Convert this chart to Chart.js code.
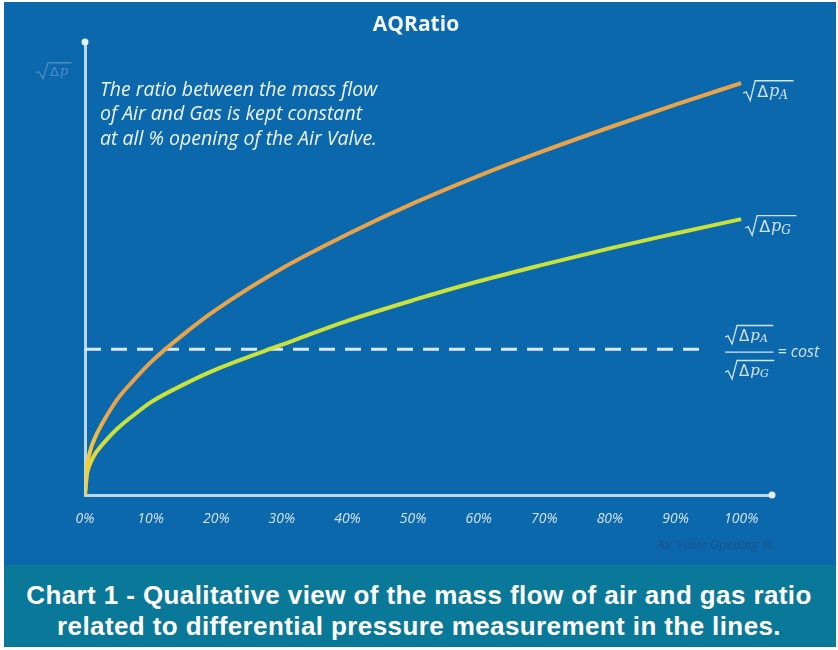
<!DOCTYPE html>
<html>
<head>
<meta charset="utf-8">
<script src="https://cdn.jsdelivr.net/npm/chart.js@4.4.1/dist/chart.umd.min.js"></script>
<style>
  html, body { margin: 0; padding: 0; background: #ffffff; }
  #wrap { position: relative; width: 838px; height: 650px; overflow: hidden; }
  #wrap::after {
    content: ""; position: absolute; left: 0; top: 0; right: 0; bottom: 0; pointer-events: none;
    border-style: solid; border-color: #ffffff; border-width: 2px 2px 3px 4px;
  }
  #plot { position: absolute; left: 0; top: 0; width: 838px; height: 565px; background: #0b68ad; }
  #caption {
    position: absolute; left: 0; top: 565px; width: 838px; height: 85px;
    background: #0a7898; color: #ffffff; text-align: center;
    font-family: "Liberation Sans", Arial, sans-serif;
    font-weight: bold; font-size: 26px; line-height: 31px; padding-top: 15px; box-sizing: border-box;
    letter-spacing: 0.4px;
  }
</style>
</head>
<body>
<div id="wrap">
  <div id="plot"><canvas id="aqChart" width="838" height="565"></canvas></div>
  <div id="caption">Chart 1 - Qualitative view of the mass flow of air and gas ratio<br>related to differential pressure measurement in the lines.</div>
</div>
<script>
// air valve opening (%)
const opening = [0, 0.3, 0.6, 1, 1.5, 2, 3, 5, 7.5, 10, 15, 20, 30, 40, 50, 60, 70, 80, 90, 100];
// sqrt(dp) air line, arbitrary units
const airFlow = [0, 7, 9.5, 11.8, 13.8, 15.5, 18.4, 23.4, 28, 32.2, 39, 45, 55, 63.3, 70.8, 77.5, 83.6, 89.3, 94.8, 100];
// sqrt(dp) gas line
const gasFlow = [0, 5, 6.8, 8.4, 9.9, 11, 12.9, 16.2, 19.5, 22.5, 26.8, 30.5, 36.5, 42.3, 47.3, 51.9, 56, 59.9, 63.5, 67];
// constant ratio level (dashed)
const ratioX = [0, 94.5];
const ratioLevel = [35.4, 35.4];
const tickLabels = [0, 10, 20, 30, 40, 50, 60, 70, 80, 90, 100];

const axisColor = "#bcd5ee";
const labelColor = "#d4e4f5";

function pts(xs, ys) {
  return xs.map(function (x, i) { return { x: x, y: ys[i] }; });
}

// line colour turns yellow close to the origin
function tipGradient(base, tip) {
  return function (context) {
    const chart = context.chart;
    const area = chart.chartArea;
    if (!area) return base;
    const x0 = chart.scales.x.getPixelForValue(0);
    const g = chart.ctx.createLinearGradient(x0, 0, x0 + 22, 0);
    g.addColorStop(0, tip);
    g.addColorStop(1, base);
    return g;
  };
}

// draws  √Δp with a subscript
function drawRoot(ctx, x, y, sub, size, color) {
  ctx.save();
  ctx.strokeStyle = color;
  ctx.fillStyle = color;
  ctx.lineWidth = 1.3;
  const h = size * 1.15;
  ctx.font = "italic " + size + "px 'DejaVu Serif', serif";
  let w = ctx.measureText("Δp").width;
  let subW = 0;
  if (sub) {
    ctx.font = "italic " + Math.round(size * 0.72) + "px 'DejaVu Serif', serif";
    subW = ctx.measureText(sub).width + 2;
  }
  const top = y - h * 0.62;
  const bot = y + h * 0.45;
  ctx.beginPath();
  ctx.moveTo(x, y + h * 0.05);
  ctx.lineTo(x + 3, y - h * 0.02);
  ctx.lineTo(x + 7, bot);
  ctx.lineTo(x + 12, top);
  ctx.lineTo(x + 16 + w + subW + 2, top);
  ctx.stroke();
  ctx.font = size + "px 'DejaVu Sans', sans-serif";
  ctx.textBaseline = "middle";
  ctx.textAlign = "left";
  ctx.fillText("Δ", x + 14, y + 1);
  const dw = ctx.measureText("Δ").width;
  ctx.font = "italic " + size + "px 'DejaVu Serif', serif";
  ctx.fillText("p", x + 15 + dw, y);
  const pw = ctx.measureText("p").width;
  if (sub) {
    ctx.font = "italic " + Math.round(size * 0.72) + "px 'DejaVu Serif', serif";
    ctx.fillText(sub, x + 15 + dw + pw, y + size * 0.22);
  }
  ctx.restore();
  return 16 + w + subW + 2;
}

const overlay = {
  id: "overlay",
  afterDraw: function (chart) {
    const ctx = chart.ctx;
    const xs = chart.scales.x;
    const ys = chart.scales.y;
    const area = chart.chartArea;

    // arrow dots at axis ends
    ctx.save();
    ctx.fillStyle = "#e6f0fa";
    ctx.beginPath();
    ctx.arc(area.left, area.top, 3.5, 0, Math.PI * 2);
    ctx.fill();
    ctx.beginPath();
    ctx.arc(area.right, area.bottom, 3.5, 0, Math.PI * 2);
    ctx.fill();

    // title
    ctx.fillStyle = "#f2f6fb";
    ctx.font = "bold 21px 'Open Sans', sans-serif";
    ctx.textAlign = "center";
    ctx.textBaseline = "middle";
    ctx.fillText("AQRatio", 416, 25);

    // note text
    ctx.font = "italic 19.5px 'Open Sans', sans-serif";
    ctx.textAlign = "left";
    ctx.fillStyle = "#eef4fb";
    const note = ["The ratio between the mass flow", "of Air and Gas is kept constant", "at all % opening of the Air Valve."];
    note.forEach(function (t, i) { ctx.fillText(t, 100, 90 + i * 24.5); });
    ctx.restore();

    // y axis label
    drawRoot(ctx, 36, 72, "", 13, "#4f8cc4");

    // line end labels
    const last = opening.length - 1;
    drawRoot(ctx, xs.getPixelForValue(opening[last]) + 2, ys.getPixelForValue(airFlow[last]) + 9, "A", 16, labelColor);
    drawRoot(ctx, xs.getPixelForValue(opening[last]) + 4, ys.getPixelForValue(gasFlow[last]) + 8, "G", 16, labelColor);

    // ratio formula
    const fx = xs.getPixelForValue(ratioX[1]) + 20;
    const fy = ys.getPixelForValue(ratioLevel[1]);
    const wNum = drawRoot(ctx, fx, fy - 13, "A", 15, labelColor);
    drawRoot(ctx, fx, fy + 22, "G", 15, labelColor);
    ctx.save();
    ctx.strokeStyle = labelColor;
    ctx.lineWidth = 1.2;
    ctx.beginPath();
    ctx.moveTo(fx, fy + 3);
    ctx.lineTo(fx + wNum, fy + 3);
    ctx.stroke();
    ctx.fillStyle = labelColor;
    ctx.font = "italic 16px 'Open Sans', sans-serif";
    ctx.textBaseline = "middle";
    ctx.fillText("= cost", fx + wNum + 4, fy + 3);
    ctx.restore();
  }
};

new Chart(document.getElementById("aqChart"), {
  type: "line",
  data: {
    datasets: [
      {
        label: "air",
        data: pts(opening, airFlow),
        borderColor: tipGradient("#e9a44a", "#f0d23a"),
        borderWidth: 4,
        pointRadius: 0,
        cubicInterpolationMode: "monotone"
      },
      {
        label: "gas",
        data: pts(opening, gasFlow),
        borderColor: tipGradient("#c9e23a", "#f0d23a"),
        borderWidth: 4,
        pointRadius: 0,
        cubicInterpolationMode: "monotone"
      },
      {
        label: "ratio",
        data: pts(ratioX, ratioLevel),
        borderColor: "#dbe8f6",
        borderWidth: 3,
        borderDash: [16, 10],
        pointRadius: 0
      }
    ]
  },
  options: {
    responsive: false,
    animation: false,
    layout: { padding: { left: 85, right: 66, top: 42, bottom: 0 } },
    scales: {
      x: {
        type: "linear",
        min: 0,
        max: 104.7,
        afterBuildTicks: function (scale) {
          scale.ticks = tickLabels.map(function (v) { return { value: v }; });
        },
        afterFit: function (scale) { scale.height = 70; },
        grid: { display: false, drawTicks: false },
        border: { display: true, color: axisColor, width: 3 },
        ticks: {
          padding: 16,
          color: labelColor,
          font: { family: "'Open Sans', sans-serif", style: "italic", size: 14 },
          callback: function (value) { return value + "%"; }
        },
        title: {
          display: true,
          text: "Air Valve Opening %",
          align: "end",
          color: "#1d5289",
          padding: { top: 4, bottom: 12 },
          font: { family: "'Open Sans', sans-serif", style: "italic", size: 13 }
        }
      },
      y: {
        min: 0,
        max: 110,
        afterFit: function (scale) { scale.width = 0; },
        grid: { display: false, drawTicks: false },
        border: { display: true, color: axisColor, width: 3 },
        ticks: { display: false }
      }
    },
    plugins: {
      legend: { display: false },
      tooltip: { enabled: false }
    }
  },
  plugins: [overlay]
});
</script>
</body>
</html>
